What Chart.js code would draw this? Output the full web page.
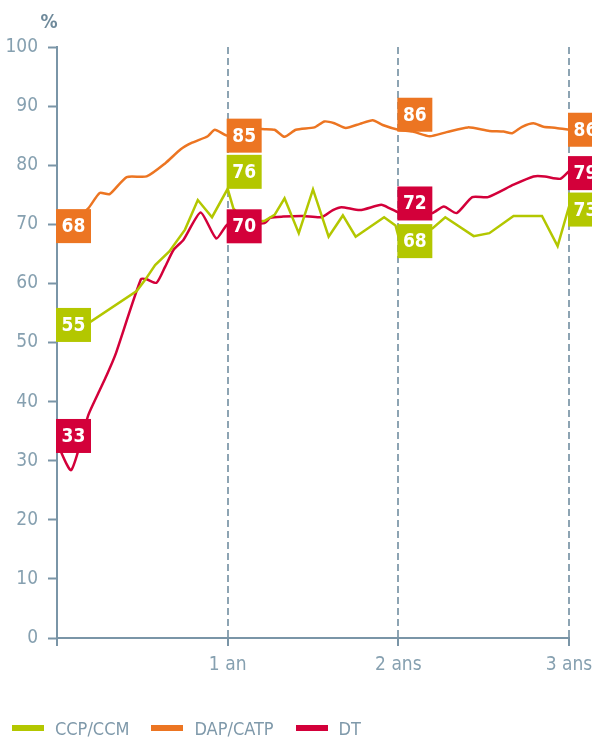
<!DOCTYPE html>
<html>
<head>
<meta charset="utf-8">
<script src="https://cdn.jsdelivr.net/npm/chart.js@4.4.1/dist/chart.umd.min.js"></script>
<style>
  body { margin: 0; background: #fff; }
  #wrap { position: relative; width: 592px; height: 737px; }
  #legend {
    position: absolute; left: 12px; top: 715px; height: 26px;
    display: flex; align-items: center;
    font: 18px "DejaVu Sans Condensed", "Liberation Sans Narrow", sans-serif;
    color: #7f99aa;
  }
  #legend .item { display: flex; align-items: center; margin-right: 22px; }
  #legend .swatch { width: 32px; height: 6px; margin-right: 11px; }
</style>
</head>
<body>
<div id="wrap">
  <canvas id="insertionChart" width="592" height="737"></canvas>
  <div id="legend"></div>
</div>
<script>
const FONT = '"DejaVu Sans Condensed", "Liberation Sans Narrow", sans-serif';
const AXIS = "#7a95a7";
const TICK_TEXT = "#86a0b0";
const DASH = "#8da4b3";

// months after the diploma, and the employment rate (%) at each of them
const ccpMonths = [0, 1, 2.3, 5.6, 6.2, 6.9, 7.9, 9.0, 9.9, 10.9, 12, 12.4, 13.3, 14.6, 15.3, 16.0, 17.0, 18.0, 19.1, 20.1, 21.0, 23.0, 23.8, 24, 25.2, 26.4, 27.3, 29.3, 30.4, 32.1, 34.1, 35.2, 36];
const ccpRate   = [55, 52.5, 53.4, 58.7, 60.6, 63.1, 65.4, 69.1, 74.1, 71.2, 76, 72.7, 70.2, 70.6, 71.6, 74.4, 68.5, 75.9, 67.9, 71.5, 67.9, 71.2, 69.8, 68, 68.6, 69.3, 71.2, 68.0, 68.5, 71.4, 71.4, 66.3, 73];

const dapMonths = [0, 1, 2.2, 3.0, 3.7, 4.9, 6.3, 7.6, 8.7, 9.5, 10.6, 11.1, 12, 13.3, 14.6, 15.3, 16.0, 16.8, 18.1, 18.8, 19.5, 20.3, 21.3, 22.2, 22.9, 24, 25.0, 26.2, 27.4, 28.9, 30.4, 31.4, 32.0, 32.7, 33.5, 34.2, 35.1, 36];
const dapRate   = [68, 70.3, 72.7, 75.3, 75.1, 78.0, 78.1, 80.3, 82.7, 83.8, 84.9, 86.0, 85, 86.1, 86.1, 86.0, 84.8, 86.0, 86.4, 87.4, 87.1, 86.3, 87.0, 87.6, 86.8, 86, 85.7, 84.9, 85.6, 86.4, 85.8, 85.7, 85.4, 86.5, 87.1, 86.5, 86.3, 86];

const dtMonths = [0, 1, 2.2, 2.9, 3.5, 4.1, 5.9, 6.3, 7.0, 7.6, 8.2, 8.9, 10.1, 11.2, 12, 13.3, 14.6, 15.0, 15.9, 17.3, 18.6, 19.4, 20.0, 21.3, 22.8, 23.4, 24, 25.2, 26.4, 27.2, 28.1, 29.2, 30.3, 32.1, 33.5, 34.3, 35.4, 36];
const dtRate   = [33, 28.4, 37.7, 41.4, 44.5, 47.9, 60.7, 60.7, 60.1, 62.8, 65.7, 67.4, 72.0, 67.6, 70, 70.1, 70.2, 71.1, 71.3, 71.4, 71.2, 72.4, 72.9, 72.4, 73.3, 72.7, 72, 71.5, 71.9, 73.0, 71.9, 74.6, 74.6, 76.7, 78.1, 78.1, 77.7, 79];

const seriesNames = ["CCP/CCM", "DAP/CATP", "DT"];
const seriesColors = ["#b3c700", "#ec7522", "#d3003a"];

// x ticks every 12 months
const yearTicks = [0, 12, 24, 36];
const yearLabels = ["", "1 an", "2 ans", "3 ans"];

// vertical shift (px) of each value box so they don't sit on top of each other
const boxShift = [
  [12, -17, 5, 3],
  [-10, 0, -15, 0],
  [-7, 2, -9, 2]
];

function toPoints(xs, ys) {
  return xs.map((x, i) => ({ x: x, y: ys[i] }));
}

// coloured boxes with the rate at 0, 1, 2 and 3 years
const valueBoxes = {
  id: "valueBoxes",
  afterDatasetsDraw(chart) {
    const { ctx, scales: { x, y } } = chart;
    ctx.save();
    ctx.font = "bold 19px " + FONT;
    ctx.textAlign = "center";
    ctx.textBaseline = "middle";
    chart.data.datasets.forEach((ds, i) => {
      yearTicks.forEach((m, j) => {
        const pt = ds.data.find((p) => p.x === m);
        if (!pt) return;
        const left = x.getPixelForValue(m) - 1;
        const cy = y.getPixelForValue(pt.y) + boxShift[i][j];
        ctx.fillStyle = ds.borderColor;
        ctx.fillRect(left, cy - 17, 35, 34);
        ctx.fillStyle = "#fff";
        ctx.fillText(String(Math.round(pt.y)), left + 17.5, cy + 1);
      });
    });
    ctx.restore();
  }
};

// "%" unit above the y axis
const unitLabel = {
  id: "unitLabel",
  afterDraw(chart) {
    const { ctx, chartArea } = chart;
    ctx.save();
    ctx.font = "bold 19px " + FONT;
    ctx.fillStyle = "#6f8a9b";
    ctx.textAlign = "center";
    ctx.textBaseline = "middle";
    ctx.fillText("%", chartArea.left - 8, chartArea.top - 24);
    ctx.restore();
  }
};

const datasets = [
  { label: seriesNames[0], data: toPoints(ccpMonths, ccpRate), borderColor: seriesColors[0], tension: 0 },
  { label: seriesNames[1], data: toPoints(dapMonths, dapRate), borderColor: seriesColors[1], tension: 0.2 },
  { label: seriesNames[2], data: toPoints(dtMonths, dtRate), borderColor: seriesColors[2], tension: 0.2 }
].map((d) => Object.assign(d, { borderWidth: 2.5, pointRadius: 0, fill: false }));

const ctx = document.getElementById("insertionChart").getContext("2d");

const chart = new Chart(ctx, {
  type: "line",
  data: { datasets: datasets },
  options: {
    responsive: false,
    animation: false,
    layout: { padding: { top: 47, right: 23, bottom: 0, left: 0 } },
    plugins: {
      legend: { display: false },
      tooltip: { enabled: false }
    },
    scales: {
      x: {
        type: "linear",
        min: 0,
        max: 36,
        afterFit: (scale) => {
          scale.height = 99;
          // let "3 ans" hang into the right margin instead of shrinking the plot
          scale.paddingLeft = 0;
          scale.paddingRight = 0;
        },
        afterBuildTicks: (scale) => { scale.ticks = yearTicks.map((v) => ({ value: v })); },
        ticks: {
          padding: 8,
          color: TICK_TEXT,
          font: { family: FONT, size: 19 },
          callback: (v) => yearLabels[yearTicks.indexOf(v)]
        },
        grid: {
          color: (c) => (c.tick && c.tick.value === 0 ? "rgba(0,0,0,0)" : DASH),
          lineWidth: 2,
          tickLength: 8,
          tickColor: AXIS,
          tickWidth: 2
        },
        border: { color: AXIS, width: 2, dash: [7, 4] }
      },
      y: {
        min: 0,
        max: 100,
        afterFit: (scale) => { scale.width = 57; },
        ticks: {
          stepSize: 10,
          padding: 10,
          color: TICK_TEXT,
          font: { family: FONT, size: 19 }
        },
        grid: {
          drawOnChartArea: false,
          tickLength: 9,
          tickColor: AXIS,
          tickWidth: 2
        },
        border: { color: AXIS, width: 2 }
      }
    }
  },
  plugins: [valueBoxes, unitLabel]
});

// legend under the chart, built from the datasets
const legendEl = document.getElementById("legend");
chart.data.datasets.forEach((ds) => {
  const item = document.createElement("div");
  item.className = "item";
  const sw = document.createElement("span");
  sw.className = "swatch";
  sw.style.background = ds.borderColor;
  const txt = document.createElement("span");
  txt.textContent = ds.label;
  item.appendChild(sw);
  item.appendChild(txt);
  legendEl.appendChild(item);
});
</script>
</body>
</html>
